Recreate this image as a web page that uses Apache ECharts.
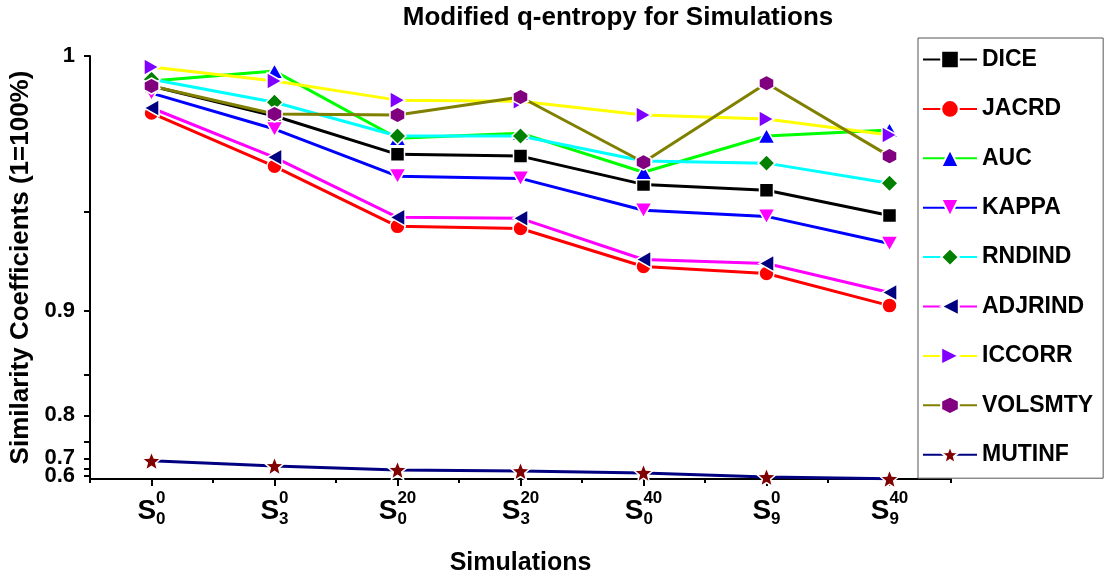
<!DOCTYPE html>
<html>
<head>
<meta charset="utf-8">
<title>Modified q-entropy for Simulations</title>
<script src="https://cdn.jsdelivr.net/npm/echarts@6/dist/echarts.min.js"></script>
<style>
  html, body { margin: 0; padding: 0; background: #fff; }
  #chart { width: 1104px; height: 577px; }
</style>
</head>
<body>
<div id="chart"></div>
<script>
// -----------------------------------------------------------------------------
// Data
// -----------------------------------------------------------------------------
const categories = ["S_0^0", "S_3^0", "S_0^20", "S_3^20", "S_0^40", "S_9^0", "S_9^40"];
const subLabels = ["0", "3", "0", "3", "0", "9", "9"];
const supLabels = ["0", "0", "20", "20", "40", "0", "40"];

const dice = [0.9919, 0.9832, 0.9710, 0.9704, 0.9604, 0.9582, 0.9483];
const jacrd = [0.9841, 0.9669, 0.9437, 0.9428, 0.9250, 0.9214, 0.9032];
const auc = [0.9933, 0.9960, 0.9763, 0.9779, 0.9648, 0.9770, 0.9789];
const kappa = [0.9899, 0.9792, 0.9634, 0.9626, 0.9504, 0.9479, 0.9361];
const rndind = [0.9938, 0.9873, 0.9770, 0.9770, 0.9687, 0.9680, 0.9608];
const adjrind = [0.9856, 0.9700, 0.9475, 0.9471, 0.9285, 0.9265, 0.9110];
const iccorr = [0.9971, 0.9933, 0.9879, 0.9876, 0.9835, 0.9823, 0.9773];
const volsmty = [0.9919, 0.9838, 0.9835, 0.9888, 0.9683, 0.9927, 0.9704];
const mutinf = [0.690, 0.667, 0.645, 0.638, 0.625, 0.590, 0.570];

const yTicks = [0.6, 0.7, 0.8, 0.9, 1];
const yMinorTicks = [0.65, 0.75, 0.85, 0.95];
const yMin = 0.568;
const yMax = 1;

// The source axis is stretched towards 1: pixel position grows like exp(K * v).
const K = 8.9;
const fwd = (v) => Math.exp(K * v);
const inv = (t) => Math.log(t) / K;

const FONT = "'Liberation Sans', Arial, sans-serif";

// path symbols (Origin style markers)
const SYM = {
  down: "path://M0,0 L10,0 L5,9 Z",
  left: "path://M9,0 L9,10 L0,5 Z",
  right: "path://M0,0 L9,5 L0,10 Z",
  hex: "path://M5,0 L9.33,2.5 L9.33,7.5 L5,10 L0.67,7.5 L0.67,2.5 Z",
  star: "path://M5,0 L6.4,3.4 L10,3.6 L7.2,5.9 L8.2,9.6 L5,7.6 L1.8,9.6 L2.8,5.9 L0,3.6 L3.6,3.4 Z"
};

const seriesSpecs = [
  { name: "DICE", data: dice, line: "#000000", fill: "#000000", symbol: "rect", size: [14, 14] },
  { name: "JACRD", data: jacrd, line: "#ff0000", fill: "#ff0000", symbol: "circle", size: [15, 15] },
  { name: "AUC", data: auc, line: "#00ff00", fill: "#0000ff", symbol: "triangle", size: [17, 15] },
  { name: "KAPPA", data: kappa, line: "#0000ff", fill: "#ff00ff", symbol: SYM.down, size: [17, 15] },
  { name: "RNDIND", data: rndind, line: "#00ffff", fill: "#008000", symbol: "diamond", size: [17, 17] },
  { name: "ADJRIND", data: adjrind, line: "#ff00ff", fill: "#000080", symbol: SYM.left, size: [15, 17] },
  { name: "ICCORR", data: iccorr, line: "#ffff00", fill: "#8000ff", symbol: SYM.right, size: [15, 17] },
  { name: "VOLSMTY", data: volsmty, line: "#808000", fill: "#800080", symbol: SYM.hex, size: [15, 16] },
  { name: "MUTINF", data: mutinf, line: "#000080", fill: "#800000", symbol: SYM.star, size: [19, 19] }
];

function buildSeries(spec) {
  return {
    name: spec.name,
    type: "line",
    xAxisIndex: 0,
    yAxisIndex: 0,
    data: spec.data.map(fwd),
    symbol: spec.symbol,
    symbolSize: spec.size,
    showAllSymbol: true,
    lineStyle: { color: spec.line, width: 3 },
    // white rim gives the gap between line and marker
    itemStyle: { color: spec.fill, borderColor: "#ffffff", borderWidth: 1.5 },
    emphasis: { disabled: true },
    animation: false
  };
}

// one axis per label part so that S, superscript and subscript can be stacked
function labelAxis(formatter, margin) {
  return {
    type: "category",
    data: categories,
    position: "bottom",
    boundaryGap: true,
    axisLine: { show: false, onZero: false },
    axisTick: { show: false },
    splitLine: { show: false },
    axisLabel: {
      interval: 0,
      margin,
      formatter: (v, i) => formatter(i),
      rich: {
        s: { fontFamily: FONT, fontWeight: "bold", fontSize: 28, lineHeight: 30, color: "#000" },
        gs: { fontFamily: FONT, fontWeight: "bold", fontSize: 28, lineHeight: 30, color: "transparent" },
        t: { fontFamily: FONT, fontWeight: "bold", fontSize: 17, lineHeight: 30, color: "#000" },
        gt: { fontFamily: FONT, fontWeight: "bold", fontSize: 17, lineHeight: 30, color: "transparent" }
      }
    }
  };
}

// y labels alternate between two overlaid axes so that the tight 0.6 / 0.7
// pair is not culled by the min-label overlap check
function yValueAxis(labelValues, withLine) {
  return {
    type: "value",
    position: "left",
    offset: 0,
    min: fwd(yMin),
    max: fwd(yMax),
    axisLine: { show: withLine, lineStyle: { color: "#000", width: 2 } },
    axisTick: {
      show: withLine,
      length: 6,
      lineStyle: { color: "#000", width: 2 },
      customValues: yTicks.concat(yMinorTicks).map(fwd)
    },
    axisLabel: {
      margin: 15,
      showMinLabel: true,
      showMaxLabel: true,
      fontFamily: FONT,
      fontWeight: "bold",
      fontSize: 22,
      color: "#000",
      customValues: labelValues.map(fwd),
      formatter: (v) => String(Math.round(inv(v) * 10) / 10)
    },
    splitLine: { show: false }
  };
}

function render() {
  const host = document.getElementById("chart");
  const chart = echarts.init(host);

  const xMain = {
    type: "category",
    data: categories,
    position: "bottom",
    boundaryGap: true,
    name: "Simulations",
    nameLocation: "middle",
    nameGap: 72,
    nameTextStyle: { fontFamily: FONT, fontWeight: "bold", fontSize: 25, color: "#000" },
    axisLine: { show: true, onZero: false, lineStyle: { color: "#000", width: 2 } },
    axisTick: { show: true, alignWithLabel: true, length: 7, lineStyle: { color: "#000", width: 2 } },
    axisLabel: { show: false },
    splitLine: { show: false }
  };
  const xMinor = {
    type: "category",
    data: categories,
    position: "bottom",
    boundaryGap: true,
    axisLine: { show: false, onZero: false },
    axisTick: { show: true, alignWithLabel: false, length: 4, lineStyle: { color: "#000", width: 2 } },
    axisLabel: { show: false },
    splitLine: { show: false }
  };
  const xS = labelAxis((i) => `{s|S}{gt|${supLabels[i]}}`, 17);
  const xSup = labelAxis((i) => `{gs|S}{t|${supLabels[i]}}`, 4);
  const xSub = labelAxis((i) => {
    const pad = supLabels[i].slice(subLabels[i].length);
    return `{gs|S}{t|${subLabels[i]}}` + (pad ? `{gt|${pad}}` : "");
  }, 25);

  const yMain = yValueAxis(yTicks.filter((v, i) => i % 2 === 0), true);
  yMain.name = "Similarity Coefficients (1=100%)";
  yMain.nameLocation = "middle";
  yMain.nameGap = 42;
  yMain.nameTextStyle = { fontFamily: FONT, fontWeight: "bold", fontSize: 26, color: "#000" };
  const yAlt = yValueAxis(yTicks.filter((v, i) => i % 2 === 1), false);

  chart.setOption({
    animation: false,
    title: {
      text: "Modified q-entropy for Simulations",
      left: 613,
      textAlign: "center",
      top: 0,
      textStyle: { fontFamily: FONT, fontWeight: "bold", fontSize: 26, color: "#000" }
    },
    grid: { left: 90, right: 153, top: 56, bottom: 98, containLabel: false, outerBoundsMode: "none" },
    legend: {
      orient: "vertical",
      left: 918,
      top: 38,
      padding: [10, 10, 12, 4],
      itemGap: 26.4,
      itemWidth: 54,
      itemHeight: 22,
      backgroundColor: "#ffffff",
      borderColor: "#555555",
      borderWidth: 1,
      textStyle: { fontFamily: FONT, fontWeight: "bold", fontSize: 23, color: "#000" },
      data: seriesSpecs.map((s) => s.name),
      selectedMode: false
    },
    xAxis: [xMain, xMinor, xS, xSup, xSub],
    yAxis: [yMain, yAlt],
    series: seriesSpecs.map(buildSeries)
  });
}

render();
</script>
</body>
</html>
